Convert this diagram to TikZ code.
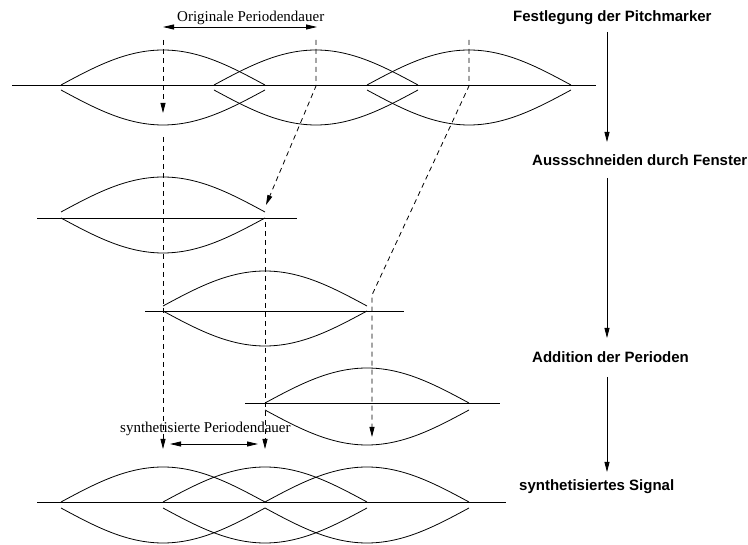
\documentclass[tikz,border=0pt]{standalone}
\usepackage{fontspec}
\setmainfont{Liberation Serif}
\setsansfont{Liberation Sans}
\usepackage{tikz}
\usetikzlibrary{arrows.meta,positioning,calc}
\definecolor{ink}{RGB}{0,0,0}
\tikzset{
  sig/.style={draw=ink,line width=0.8pt},
  pmk/.style={draw=ink,line width=0.8pt,dash pattern=on 5pt off 4pt},
  arr/.style={-{Triangle[length=10pt,width=5pt]}},
  darr/.style={{Triangle[length=11pt,width=5pt]}-{Triangle[length=11pt,width=5pt]},line width=0.8pt},
  txt/.style={font=\fontsize{15}{18}\selectfont,inner sep=0pt,anchor=base west},
  stage/.style={font=\fontsize{15}{18}\selectfont\sffamily\bfseries,inner sep=0pt,anchor=base west},
}
\begin{document}
\begin{tikzpicture}[x=1pt,y=-1pt]
  \useasboundingbox (0,0) rectangle (748,545);
  % time axes of the five rows
  \draw[sig] (12,85) -- (596,85);
  \draw[sig] (37,218) -- (297,218);
  \draw[sig] (145,311) -- (404,311);
  \draw[sig] (245,403) -- (500,403);
  \draw[sig] (37,502) -- (506,502);
  % windows: centre / base of upper lobe / base of lower lobe
  \foreach \c/\u/\l in {163/85/90,316/85/90,469/85/90,163/212/218,265/306/311,
      367/403/410,163/502/508,265/502/508,367/502/508} {
    \draw[sig] (\c-102,\u) sin (\c,\u-35) cos (\c+102,\u);
    \draw[sig] (\c-102,\l) sin (\c,\l+35) cos (\c+102,\l);
  }
  % pitch marks
  \coordinate (o1) at (163,40);
  \coordinate (o1e) at (163,113);
  \coordinate (s1) at (163,137);
  \coordinate (s1e) at (163,449);
  \coordinate (o2) at (316,40);
  \coordinate (o2k) at (316,86);
  \coordinate (o2e) at (266,205);
  \coordinate (s2) at (265,222);
  \coordinate (s2e) at (265,449);
  \coordinate (o3) at (469,40);
  \coordinate (o3k) at (469,86);
  \coordinate (o3m) at (372,295);
  \coordinate (o3e) at (372,437);
  \draw[pmk,arr] (o1) -- (o1e);
  \draw[pmk,arr] (s1) -- (s1e);
  \draw[pmk,arr] (o2) -- (o2k) -- (o2e);
  \draw[pmk,arr] (s2) -- (s2e);
  \draw[pmk,arr] (o3) -- (o3k) -- (o3m) -- (o3e);
  % period lengths
  \coordinate (d1) at (163,27);
  \coordinate (d2) at (317,27);
  \draw[darr] (d1) -- (d2);
  \node[txt] (orig) at (177,22) {Originale Periodendauer};
  \coordinate (e1) at (170,444);
  \coordinate (e2) at (258,444);
  \draw[darr] (e1) -- (e2);
  \node[txt] (synp) at (120,433) {synthetisierte Periodendauer};
  % processing steps
  \node[stage] (st1) at (513,22) {Festlegung der Pitchmarker};
  \node[stage] (st2) at (532,166) {Aussschneiden durch Fenster};
  \node[stage] (st3) at (532,363) {Addition der Perioden};
  \node[stage] (st4) at (519,491) {synthetisiertes Signal};
  \coordinate (a1) at (607,32);
  \coordinate (a1e) at (607,142);
  \coordinate (a2) at (607,178);
  \coordinate (a2e) at (607,338);
  \coordinate (a3) at (607,377);
  \coordinate (a3e) at (607,472);
  \draw[sig,arr] (a1) -- (a1e);
  \draw[sig,arr] (a2) -- (a2e);
  \draw[sig,arr] (a3) -- (a3e);
\end{tikzpicture}
\end{document}
